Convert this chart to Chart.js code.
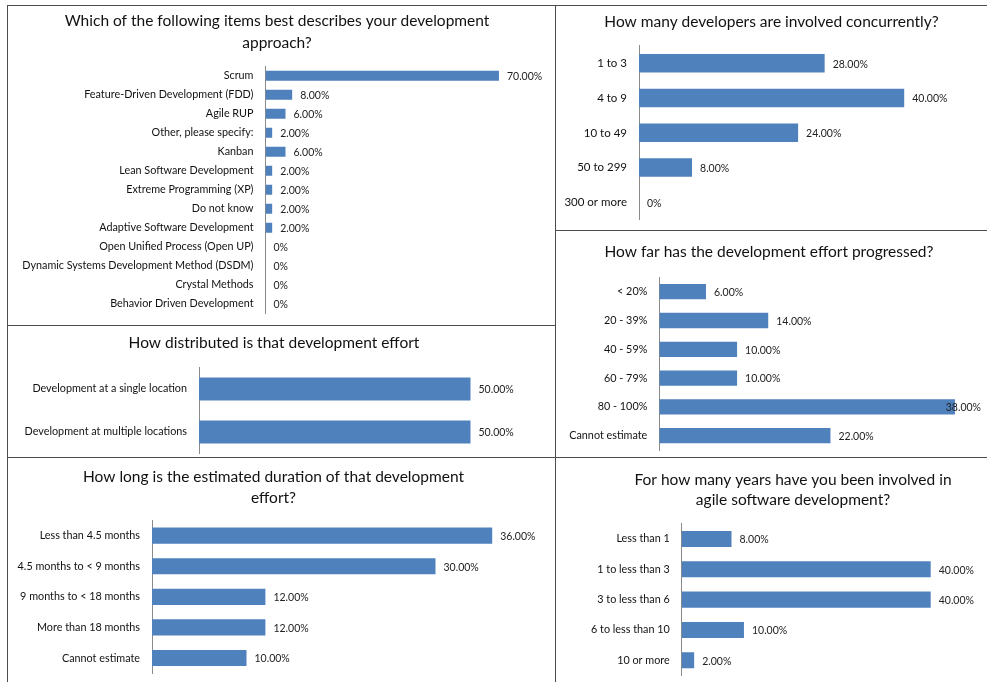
<!DOCTYPE html>
<html><head><meta charset="utf-8">
<script src="https://cdn.jsdelivr.net/npm/chart.js@4.4.0/dist/chart.umd.min.js"></script>
<style>
html,body{margin:0;padding:0;background:#fff;}
#page{position:relative;width:987px;height:682px;overflow:hidden;background:#fff;}
canvas{position:absolute;}
.ln{position:absolute;background:#4d4d4d;}
</style></head><body>
<div id="page"></div>
<script>
// ---------- data ----------
const approachLabels = ['Scrum','Feature-Driven Development (FDD)','Agile RUP','Other, please specify:','Kanban','Lean Software Development','Extreme Programming (XP)','Do not know','Adaptive Software Development','Open Unified Process (Open UP)','Dynamic Systems Development Method (DSDM)','Crystal Methods','Behavior Driven Development'];
const approachValues = [70,8,6,2,6,2,2,2,2,0,0,0,0];

const distributionLabels = ['Development at a single location','Development at multiple locations'];
const distributionValues = [50,50];

const durationLabels = ['Less than 4.5 months','4.5 months to < 9 months','9 months to < 18 months','More than 18 months','Cannot estimate'];
const durationValues = [36,30,12,12,10];

const developersLabels = ['1 to 3','4 to 9','10 to 49','50 to 299','300 or more'];
const developersValues = [28,40,24,8,0];

const progressLabels = ['< 20%','20 - 39%','40 - 59%','60 - 79%','80 - 100%','Cannot estimate'];
const progressValues = [6,14,10,10,38,22];

const yearsLabels = ['Less than 1','1 to less than 3','3 to less than 6','6 to less than 10','10 or more'];
const yearsValues = [8,40,40,10,2];

const approachTitle = ['Which of the following items best describes your development','approach?'];
const distributionTitle = ['How distributed is that development effort'];
const durationTitle = ['How long is the estimated duration of that development','effort?'];
const developersTitle = ['How many developers are involved concurrently?'];
const progressTitle = ['How far has the development effort progressed?'];
const yearsTitle = ['For how many years have you been involved in','agile software development?'];

// ---------- layout ----------
const FONT = 'Lato';
const BAR = '#4F81BD';
const PAGE_W = 987;
// left: canvas left edge; tc: title centre (canvas is centred on it); plotTop/plotBottom: plot area in page px
const panels = [
  {title:approachTitle, labels:approachLabels, values:approachValues, left:8, top:6, h:319, axisX:265.5, ppp:3.335, plotTop:66.2, plotBottom:313.2, t1:20.5, lh:22.5, tc:277, tick:10.8},
  {title:distributionTitle, labels:distributionLabels, values:distributionValues, left:8, top:326, h:131, axisX:199, ppp:5.43, plotTop:367.5, plotBottom:453.5, t1:343, lh:21, tc:274, tick:10.8},
  {title:durationTitle, labels:durationLabels, values:durationValues, left:8, top:458, h:224, axisX:152, ppp:9.45, plotTop:520.4, plotBottom:673.3, t1:476.7, lh:21, tc:273.6, tick:10.8},
  {title:developersTitle, labels:developersLabels, values:developersValues, left:556, top:6, h:224, axisX:639, ppp:6.63, plotTop:45.9, plotBottom:219.7, t1:21.7, lh:21, tc:771.5, tick:11.5},
  {title:progressTitle, labels:progressLabels, values:progressValues, left:556, top:231, h:226, axisX:659.3, ppp:7.78, plotTop:277.3, plotBottom:450.1, t1:251.7, lh:21, tc:769, tick:10.8},
  {title:yearsTitle, labels:yearsLabels, values:yearsValues, left:556, top:458, h:224, axisX:681.7, ppp:6.225, plotTop:523.8, plotBottom:675.5, t1:480, lh:20, tc:793, tick:10.8}
];

const valueLabels = {
  id:'valueLabels',
  afterDatasetsDraw(chart, args, opts){
    const ctx = chart.ctx;
    const meta = chart.getDatasetMeta(0);
    const data = chart.data.datasets[0].data;
    ctx.save();
    ctx.font = '10.5px ' + FONT;
    ctx.fillStyle = '#222';
    ctx.textBaseline = 'middle';
    ctx.textAlign = 'left';
    meta.data.forEach((bar, i) => {
      const v = data[i];
      const txt = v === 0 ? '0%' : v.toFixed(2) + '%';
      const w = ctx.measureText(txt).width;
      let x = bar.x + 8;
      if (x + w > opts.limit) x = opts.limit - w;
      ctx.fillText(txt, x, bar.y + 1);
    });
    ctx.restore();
  }
};

const page = document.getElementById('page');
panels.forEach(p => {
  const bx = p.left, by = p.top, bh = p.h;
  const bw = Math.round(2 * (p.tc - bx));
  const c = document.createElement('canvas');
  c.width = bw; c.height = bh;
  c.style.left = bx + 'px'; c.style.top = by + 'px';
  c.style.width = bw + 'px'; c.style.height = bh + 'px';
  page.appendChild(c);
  const tTop = p.t1 - by - p.lh / 2;
  const tBottom = p.plotTop - by - tTop - p.title.length * p.lh;
  const axisWidth = p.axisX - bx;
  const xMax = (bx + bw - p.axisX) / p.ppp;
  new Chart(c, {
    type:'bar',
    data:{labels:p.labels, datasets:[{data:p.values, backgroundColor:BAR, borderWidth:0, barPercentage:0.53, categoryPercentage:1}]},
    options:{
      indexAxis:'y', responsive:false, animation:false, devicePixelRatio:1,
      layout:{autoPadding:false, padding:{left:0, right:0, top:0, bottom:(by + bh) - p.plotBottom}},
      plugins:{
        legend:{display:false}, tooltip:{enabled:false},
        title:{display:true, text:p.title, color:'#111', font:{family:FONT, size:15.5, weight:'normal', lineHeight:p.lh/15.5}, padding:{top:tTop, bottom:tBottom}},
        valueLabels:{limit:(PAGE_W - 6) - bx}
      },
      scales:{
        x:{display:false, min:0, max:xMax},
        y:{
          grid:{display:false, drawTicks:false},
          border:{display:true, color:'#8a8a8a', width:1},
          ticks:{color:'#111', font:{family:FONT, size:p.tick}, padding:12, autoSkip:false},
          afterFit(s){ s.width = axisWidth; s.paddingTop = 0; s.paddingBottom = 0; }
        }
      }
    },
    plugins:[valueLabels]
  });
});

// panel frame lines
[[7,5,980,1],[7,5,1,677],[555,5,1,677],[7,325,548,1],[555,230,432,1],[7,457,980,1]].forEach(([x,y,w,h]) => {
  const d = document.createElement('div');
  d.className = 'ln';
  d.style.left = x + 'px'; d.style.top = y + 'px'; d.style.width = w + 'px'; d.style.height = h + 'px';
  page.appendChild(d);
});
</script>
</body></html>
